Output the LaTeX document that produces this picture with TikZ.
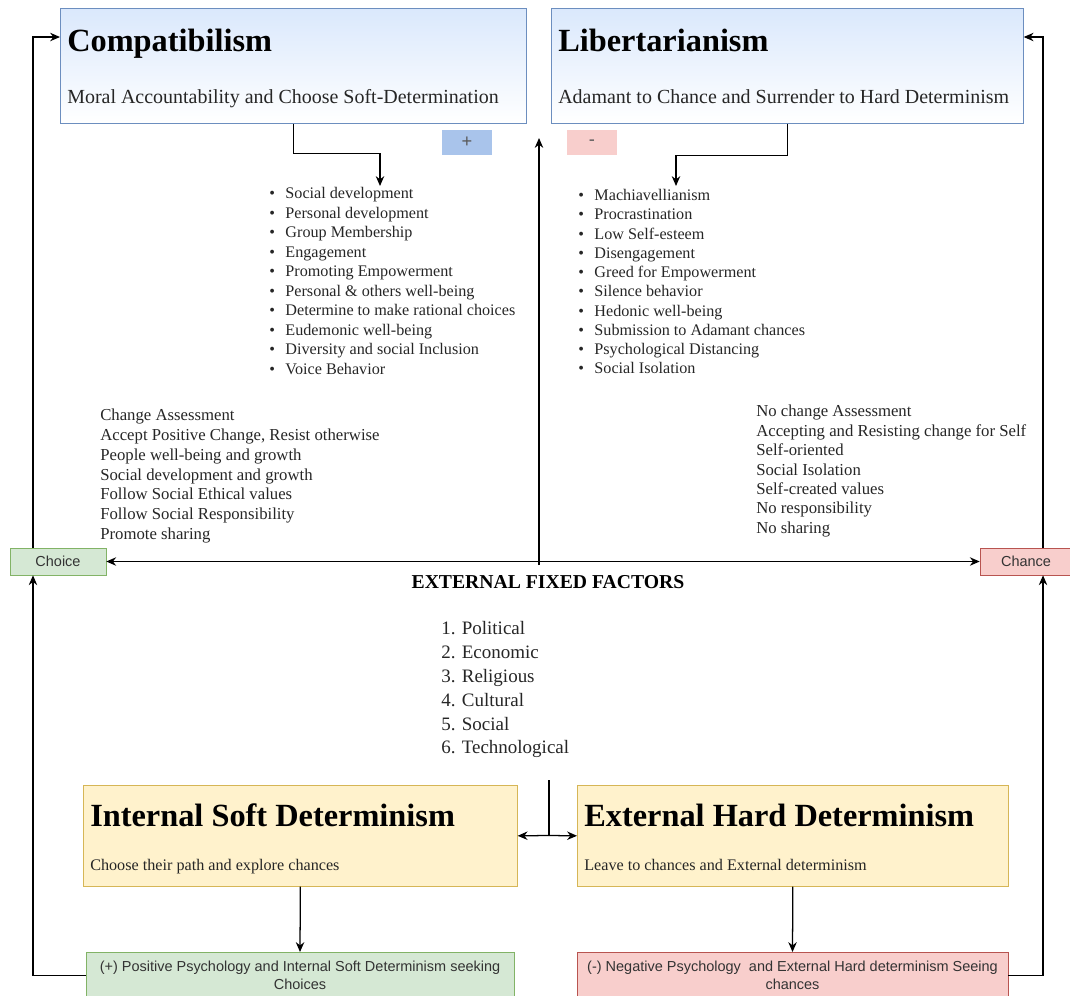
\documentclass[tikz,border=0pt]{standalone}
\usepackage{fontspec}
\setmainfont{Liberation Serif}
\setsansfont{Liberation Sans}
\usetikzlibrary{calc,positioning,arrows.meta}
\definecolor{BlueFill}{HTML}{DAE8FC}
\definecolor{BlueLine}{HTML}{6C8EBF}
\definecolor{PlusFill}{HTML}{A9C4EB}
\definecolor{GreenFill}{HTML}{D5E8D4}
\definecolor{GreenLine}{HTML}{82B366}
\definecolor{RedFill}{HTML}{F8CECC}
\definecolor{RedLine}{HTML}{B85450}
\definecolor{YellowFill}{HTML}{FFF2CC}
\definecolor{YellowLine}{HTML}{D6B656}
\newcommand{\bitem}[1]{\makebox[11.5pt][l]{\textbullet}#1}

\begin{document}
\begin{tikzpicture}[
    x=0.025cm, y=-0.025cm,
    bluebox/.style={draw=BlueLine,top color=BlueFill,bottom color=white,anchor=north west,minimum height=2.875cm,inner sep=0pt},
    yellowbox/.style={draw=YellowLine,fill=YellowFill,anchor=north west,minimum height=2.525cm,inner sep=0pt},
    greenbox/.style={draw=GreenLine,fill=GreenFill,font=\sffamily\fontsize{10.3}{12.8}\selectfont,text=black!80,align=center},
    redbox/.style={draw=RedLine,fill=RedFill,font=\sffamily\fontsize{10.3}{12.8}\selectfont,text=black!80,align=center},
    signbox/.style={minimum width=1.25cm,minimum height=0.625cm,font=\sffamily\fontsize{13}{14}\selectfont,text=black!65},
    title/.style={font=\fontsize{23}{27}\selectfont\bfseries,anchor=base west,inner sep=0pt},
    subtitle/.style={font=\fontsize{14.2}{16}\selectfont,anchor=base west,inner sep=0pt,text=black!85},
    smallsub/.style={font=\fontsize{11.5}{13}\selectfont,anchor=base west,inner sep=0pt,text=black!85},
    listtext/.style={font=\fontsize{11.5}{13.9}\selectfont,align=left,anchor=north west,inner sep=0pt,text=black!85},
    arrow/.style={-{Stealth[length=7pt,width=6pt]},line width=0.9pt},
    darrow/.style={{Stealth[length=7pt,width=6pt]}-{Stealth[length=7pt,width=6pt]},line width=0.9pt}
]
  \useasboundingbox (0,0) rectangle (1070,995);

  \node[bluebox, minimum width=11.65cm] (compat) at (60,8) {};
  \node[title] (compattitle) at (67,51) {Compatibilism};
  \node[subtitle] (compatsub) at (67,103) {Moral Accountability and Choose Soft-Determination};

  \node[bluebox, minimum width=11.8cm] (liber) at (551,8) {};
  \node[title] (libertitle) at (558,51) {Libertarianism};
  \node[subtitle] (libersub) at (558,103) {Adamant to Chance and Surrender to Hard Determinism};

  \node[signbox, fill=PlusFill] (plus) at (467,142.5) {+};
  \node[signbox, fill=RedFill] (minus) at (592,142.5) {-};

  \node[listtext] (goodlist) at (269,187) {\bitem{Social development}\\ \bitem{Personal development}\\ \bitem{Group Membership}\\
    \bitem{Engagement}\\ \bitem{Promoting Empowerment}\\ \bitem{Personal \& others well-being}\\
    \bitem{Determine to make rational choices}\\ \bitem{Eudemonic well-being}\\ \bitem{Diversity and social Inclusion}\\ \bitem{Voice Behavior}};
  \node[listtext, font=\fontsize{11.5}{13.7}\selectfont] (badlist) at (578,189) {\bitem{Machiavellianism}\\ \bitem{Procrastination}\\ \bitem{Low Self-esteem}\\
    \bitem{Disengagement}\\ \bitem{Greed for Empowerment}\\ \bitem{Silence behavior}\\ \bitem{Hedonic well-being}\\
    \bitem{Submission to Adamant chances}\\ \bitem{Psychological Distancing}\\ \bitem{Social Isolation}};

  \node[listtext, font=\fontsize{11.9}{14.06}\selectfont] (goodtraits) at (100,409) {Change Assessment\\ Accept Positive Change, Resist otherwise\\
    People well-being and growth\\ Social development and growth\\ Follow Social Ethical values\\ Follow Social Responsibility\\ Promote sharing};
  \node[listtext, font=\fontsize{11.9}{13.8}\selectfont] (badtraits) at (756,405) {No change Assessment\\ Accepting and Resisting change for Self\\
    Self-oriented\\ Social Isolation\\ Self-created values\\ No responsibility\\ No sharing};

  \node[greenbox, minimum width=2.4cm, minimum height=0.675cm] (choice) at (58,561.5) {Choice};
  \node[redbox, minimum width=2.3cm, minimum height=0.675cm] (chance) at (1026,561.5) {Chance};

  \node[font=\fontsize{14}{16}\selectfont\bfseries] (fixed) at (548,582) {EXTERNAL FIXED FACTORS};
  \node[listtext, font=\fontsize{13.5}{17}\selectfont] (factors) at (441,621) {1. Political\\ 2. Economic\\ 3. Religious\\ 4. Cultural\\ 5. Social\\ 6. Technological};

  \node[yellowbox, minimum width=10.85cm] (internal) at (83,785) {};
  \node[title] (internaltitle) at (90,826) {Internal Soft Determinism};
  \node[smallsub] (internalsub) at (90,870) {Choose their path and explore chances};

  \node[yellowbox, minimum width=10.775cm] (external) at (577,785) {};
  \node[title] (externaltitle) at (584,826) {External Hard Determinism};
  \node[smallsub] (externalsub) at (584,870) {Leave to chances and External determinism};

  \node[greenbox, anchor=north, minimum width=10.7cm, minimum height=1.15cm] (positive) at (300,952) {(+) Positive Psychology and Internal Soft Determinism seeking\\ Choices};
  \node[redbox, anchor=north, minimum width=10.775cm, minimum height=1.15cm] (negative) at (792.5,952) {(-) Negative Psychology\ \ and External Hard determinism Seeing\\ chances};

  \coordinate (goodin) at (380,186);
  \coordinate (badin) at (676,186);
  \coordinate (hub) at (539,565);
  \coordinate (uptip) at (539,138);
  \coordinate (fork) at (549,780);
  \coordinate (forkmid) at (549,835.5);

  \draw[arrow] (compat.south) -- ++(0,30) -| (goodin);
  \draw[arrow] (liber.south) -- ++(0,32) -| (badin);

  \draw[arrow] (positive.west) -| ([xshift=-0.625cm]choice.south);
  \draw[arrow] ([xshift=-0.625cm]choice.north) |- ([yshift=-0.725cm]compat.north west);
  \draw[arrow] (negative.east) -| ([xshift=0.425cm]chance.south);
  \draw[arrow] ([xshift=0.425cm]chance.north) |- ([yshift=-0.725cm]liber.north east);

  \draw[darrow] (choice.east) -- (chance.west);
  \draw[arrow] (hub) -- (uptip);

  \draw[line width=0.9pt] (fork) -- (forkmid);
  \draw[arrow] (forkmid) -- (internal.east);
  \draw[arrow] (forkmid) -- (external.west);

  \draw[arrow] (internal.south) -- (positive.north);
  \draw[arrow] (external.south) -- (negative.north);
\end{tikzpicture}
\end{document}
